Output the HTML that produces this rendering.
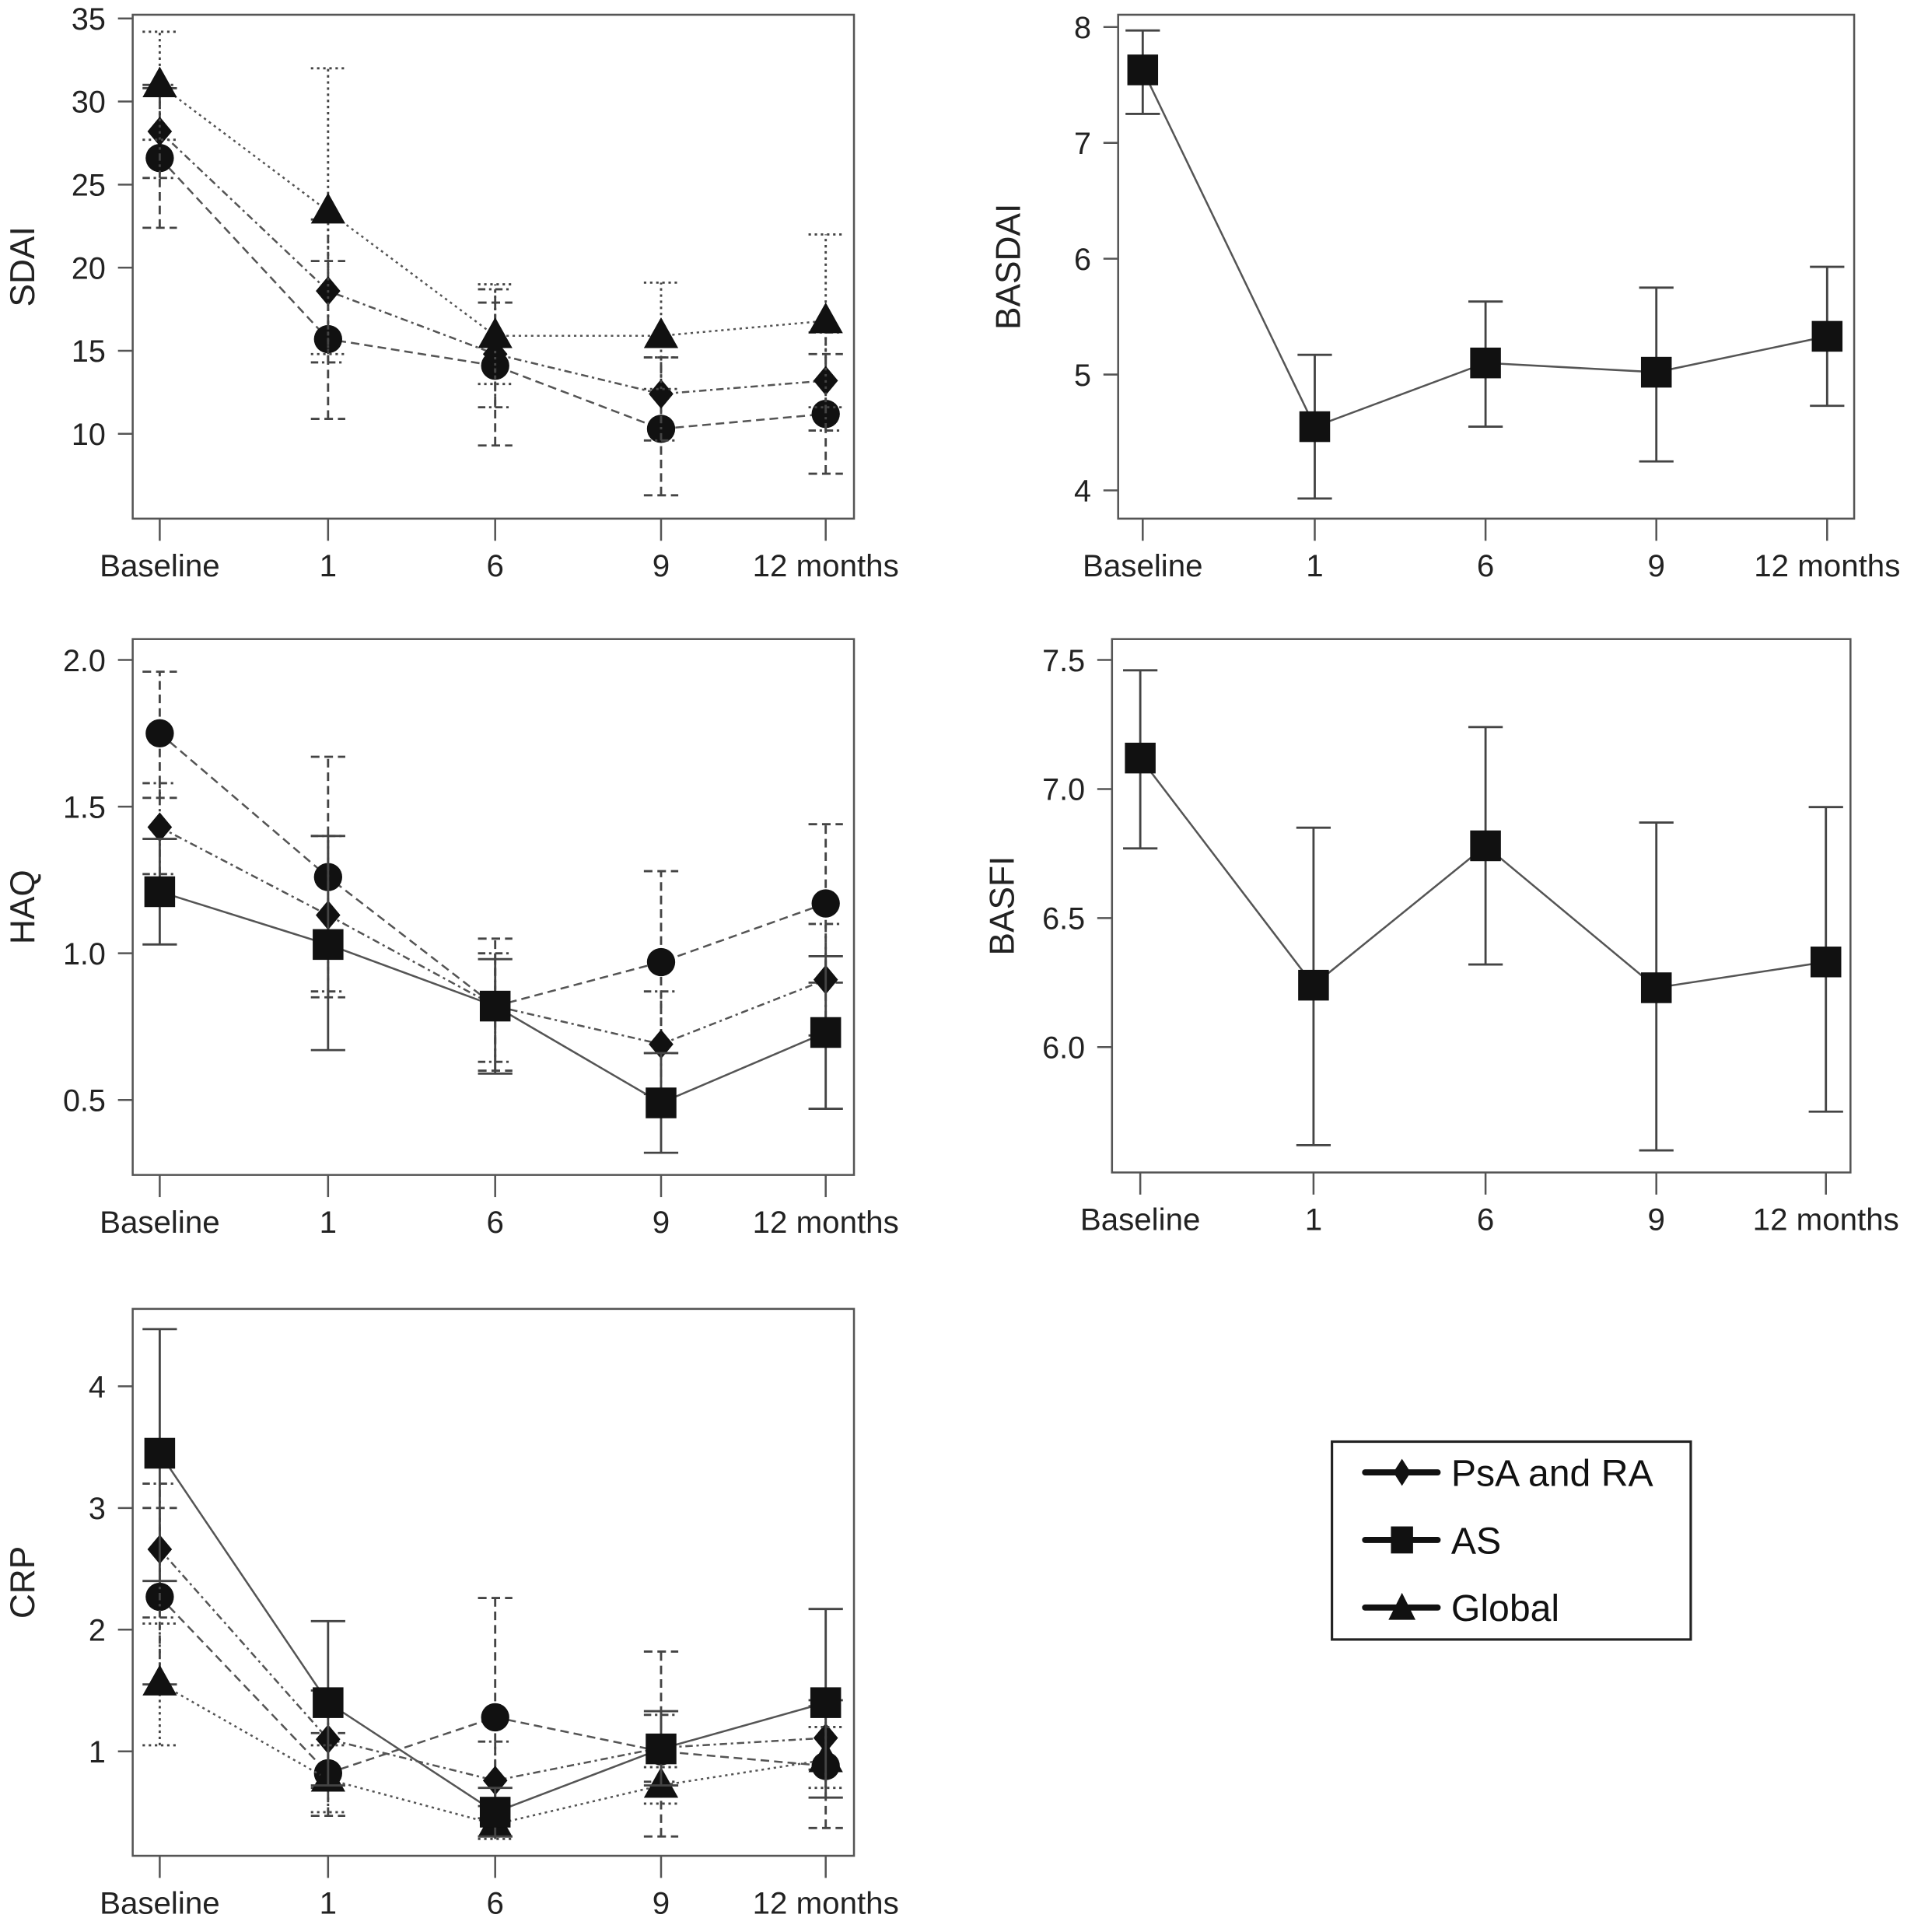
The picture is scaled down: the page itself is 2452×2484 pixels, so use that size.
<!DOCTYPE html>
<html><head><meta charset="utf-8"><style>
html,body{margin:0;padding:0;background:#fff;}
svg{display:block;font-family:"Liberation Sans",sans-serif;}
</style></head><body>
<svg id="chart" width="2452" height="2484" viewBox="0 0 1552 1572" preserveAspectRatio="none" xmlns="http://www.w3.org/2000/svg"></svg>
<script>
const categories = ["Baseline","1","6","9","12 months"];
// SDAI
const sdaiCircle = [26.6,15.7,14.1,10.3,11.2];
const sdaiCircleLo = [22.4,10.9,9.3,6.3,7.6];
const sdaiCircleHi = [30.8,20.4,17.9,14.6,14.8];
const sdaiDiamond = [28.2,18.6,14.8,12.4,13.2];
const sdaiDiamondLo = [25.4,14.3,11.6,9.6,10.2];
const sdaiDiamondHi = [31.0,22.9,18.7,14.6,16.1];
const sdaiTriangle = [31.0,23.4,15.9,15.9,16.8];
const sdaiTriangleLo = [27.7,14.8,13.0,12.7,11.6];
const sdaiTriangleHi = [34.2,32.0,19.0,19.1,22.0];
const sdaiTicks = [35,30,25,20,15,10];
// BASDAI
const basdaiSquare = [7.63,4.55,5.10,5.02,5.33];
const basdaiLo = [7.25,3.93,4.55,4.25,4.73];
const basdaiHi = [7.97,5.17,5.63,5.75,5.93];
const basdaiTicks = [8,7,6,5,4];
// HAQ
const haqCircle = [1.75,1.26,0.82,0.97,1.17];
const haqCircleLo = [1.53,0.85,0.60,0.66,0.90];
const haqCircleHi = [1.96,1.67,1.05,1.28,1.44];
const haqDiamond = [1.43,1.13,0.82,0.69,0.91];
const haqDiamondLo = [1.27,0.87,0.63,0.52,0.72];
const haqDiamondHi = [1.58,1.40,1.00,0.87,1.10];
const haqSquare = [1.21,1.03,0.82,0.49,0.73];
const haqSquareLo = [1.03,0.67,0.59,0.32,0.47];
const haqSquareHi = [1.39,1.40,0.98,0.66,0.99];
const haqTicks = [2.0,1.5,1.0,0.5];
// BASFI
const basfiSquare = [7.12,6.24,6.78,6.23,6.33];
const basfiLo = [6.77,5.62,6.32,5.60,5.75];
const basfiHi = [7.46,6.85,7.24,6.87,6.93];
const basfiTicks = [7.5,7.0,6.5,6.0];
// CRP
const crpSquare = [3.45,1.40,0.50,1.02,1.40];
const crpSquareLo = [2.40,0.72,0.30,0.72,0.62];
const crpSquareHi = [4.47,2.07,0.70,1.33,2.17];
const crpDiamond = [2.66,1.10,0.76,1.03,1.11];
const crpDiamondLo = [2.10,0.70,0.45,0.75,0.85];
const crpDiamondHi = [3.20,1.50,1.08,1.30,1.37];
const crpCircle = [2.27,0.82,1.28,1.00,0.88];
const crpCircleLo = [1.55,0.47,0.30,0.30,0.37];
const crpCircleHi = [3.00,1.15,2.26,1.82,1.42];
const crpTriangle = [1.56,0.77,0.40,0.72,0.93];
const crpTriangleLo = [1.05,0.50,0.28,0.57,0.70];
const crpTriangleHi = [2.05,1.05,0.55,0.87,1.20];
const crpTicks = [4,3,2,1];

const NS="http://www.w3.org/2000/svg";
const svg=document.getElementById('chart');
function mk(tag,attrs,parent){const e=document.createElementNS(NS,tag);for(const k in attrs)e.setAttribute(k,attrs[k]);(parent||svg).appendChild(e);return e;}
const DASH={circle:"7,4",diamond:"6,3,2,3",triangle:"2,3",square:""};

function panel(name,box,xs,yRef,ticks,label,series){
  const g=mk('g',{});
  
  
  const y=v=>yRef[1]+(v-yRef[0])*(yRef[3]-yRef[1])/(yRef[2]-yRef[0]);
  const fr=mk('rect',{x:box[0],y:box[1],width:box[2]-box[0],height:box[3]-box[1],fill:'none',stroke:'#555','stroke-width':1.6},g);
  
  
  ticks.forEach(t=>{
    mk('line',{x1:box[0]-12,x2:box[0],y1:y(t),y2:y(t),stroke:'#555','stroke-width':1.6},g);
    const tx=mk('text',{x:box[0]-22,y:y(t)+9,'text-anchor':'end','font-size':25,fill:'#222'},g);
    tx.textContent=(name!=='haq'&&name!=='basfi')?t:t.toFixed(1);
    
    
  });
  xs.forEach((x,i)=>{
    mk('line',{x1:x,x2:x,y1:box[3],y2:box[3]+18,stroke:'#555','stroke-width':1.6},g);
    const tx=mk('text',{x:x,y:box[3]+47,'text-anchor':'middle','font-size':25.5,fill:'#222'},g);
    tx.textContent=categories[i];
    
    
  });
  const yl=mk('text',{x:0,y:0,'text-anchor':'middle','font-size':28,fill:'#222',transform:`translate(${box[0]-80},${(box[1]+box[3])/2}) rotate(-90)`},g);
  yl.textContent=label;
  
  
  series.forEach(s=>{
    const sg=mk('g',{},g);
    
    
    const pts=s.v.map((v,i)=>xs[i]+','+y(v)).join(' ');
    mk('polyline',{points:pts,fill:'none',stroke:'#555','stroke-width':1.6,'stroke-dasharray':DASH[s.shape]},sg);
    s.v.forEach((v,i)=>{
      const x=xs[i];
      const eb=mk('g',{stroke:'#444','stroke-width':1.8,'stroke-dasharray':DASH[s.shape]},sg);
      
      
      mk('line',{x1:x,x2:x,y1:y(s.lo[i]),y2:y(s.hi[i])},eb);
      mk('line',{x1:x-14,x2:x+14,y1:y(s.lo[i]),y2:y(s.lo[i])},eb);
      mk('line',{x1:x-14,x2:x+14,y1:y(s.hi[i]),y2:y(s.hi[i])},eb);
      const cy=y(v);let m;
      if(s.shape==='circle')m=mk('circle',{cx:x,cy:cy,r:11.5,fill:'#111'},sg);
      else if(s.shape==='square')m=mk('rect',{x:x-12.5,y:cy-12.5,width:25,height:25,fill:'#111'},sg);
      else if(s.shape==='diamond')m=mk('polygon',{points:`${x},${cy-12} ${x+10},${cy} ${x},${cy+12} ${x-10},${cy}`,fill:'#111'},sg);
      else m=mk('polygon',{points:`${x},${cy-15} ${x+14},${cy+10} ${x-14},${cy+10}`,fill:'#111'},sg);
      
      
    });
  });
}
const xsL=[130,267,403,538,672];
panel('sdai',[108,12,695,422],xsL,[35,15,10,353],sdaiTicks,'SDAI',[
 {shape:'circle',v:sdaiCircle,lo:sdaiCircleLo,hi:sdaiCircleHi},
 {shape:'diamond',v:sdaiDiamond,lo:sdaiDiamondLo,hi:sdaiDiamondHi},
 {shape:'triangle',v:sdaiTriangle,lo:sdaiTriangleLo,hi:sdaiTriangleHi}]);
panel('basdai',[910,12,1509,422],[930,1070,1209,1348,1487],[8,22,4,399],basdaiTicks,'BASDAI',[
 {shape:'square',v:basdaiSquare,lo:basdaiLo,hi:basdaiHi}]);
panel('haq',[108,520,695,956],xsL,[2.0,537,0.5,895],haqTicks,'HAQ',[
 {shape:'circle',v:haqCircle,lo:haqCircleLo,hi:haqCircleHi},
 {shape:'diamond',v:haqDiamond,lo:haqDiamondLo,hi:haqDiamondHi},
 {shape:'square',v:haqSquare,lo:haqSquareLo,hi:haqSquareHi}]);
panel('basfi',[905,520,1506,954],[928,1069,1209,1348,1486],[7.5,537,6.0,852],basfiTicks,'BASFI',[
 {shape:'square',v:basfiSquare,lo:basfiLo,hi:basfiHi}]);
panel('crp',[108,1065,695,1510],xsL,[4,1128,1,1425],crpTicks,'CRP',[
 {shape:'circle',v:crpCircle,lo:crpCircleLo,hi:crpCircleHi},
 {shape:'diamond',v:crpDiamond,lo:crpDiamondLo,hi:crpDiamondHi},
 {shape:'triangle',v:crpTriangle,lo:crpTriangleLo,hi:crpTriangleHi},
 {shape:'square',v:crpSquare,lo:crpSquareLo,hi:crpSquareHi}]);

// legend
const lg=mk('g',{});


mk('rect',{x:1084,y:1173,width:292,height:161,fill:'#fff',stroke:'#222','stroke-width':2},lg);
const legendLabels=['PsA and RA','AS','Global'];
const legendShapes=['diamond','square','triangle'];
legendLabels.forEach((t,i)=>{
  const cy=1198+i*55, x=1141;
  const eg=mk('g',{},lg);
  
  
  mk('line',{x1:1111,x2:1170,y1:cy,y2:cy,stroke:'#111','stroke-width':5,'stroke-linecap':'round'},eg);
  if(i===0)mk('polygon',{points:`${x},${cy-11} ${x+7},${cy} ${x},${cy+11} ${x-7},${cy}`,fill:'#111'},eg);
  else if(i===1)mk('rect',{x:x-9,y:cy-11,width:18,height:22,fill:'#111'},eg);
  else mk('polygon',{points:`${x},${cy-12} ${x+11},${cy+10} ${x-11},${cy+10}`,fill:'#111'},eg);
  const tx=mk('text',{x:1181,y:cy+11,'font-size':30.5,fill:'#111'},eg);
  tx.textContent=t;
});
</script>
</body></html>
